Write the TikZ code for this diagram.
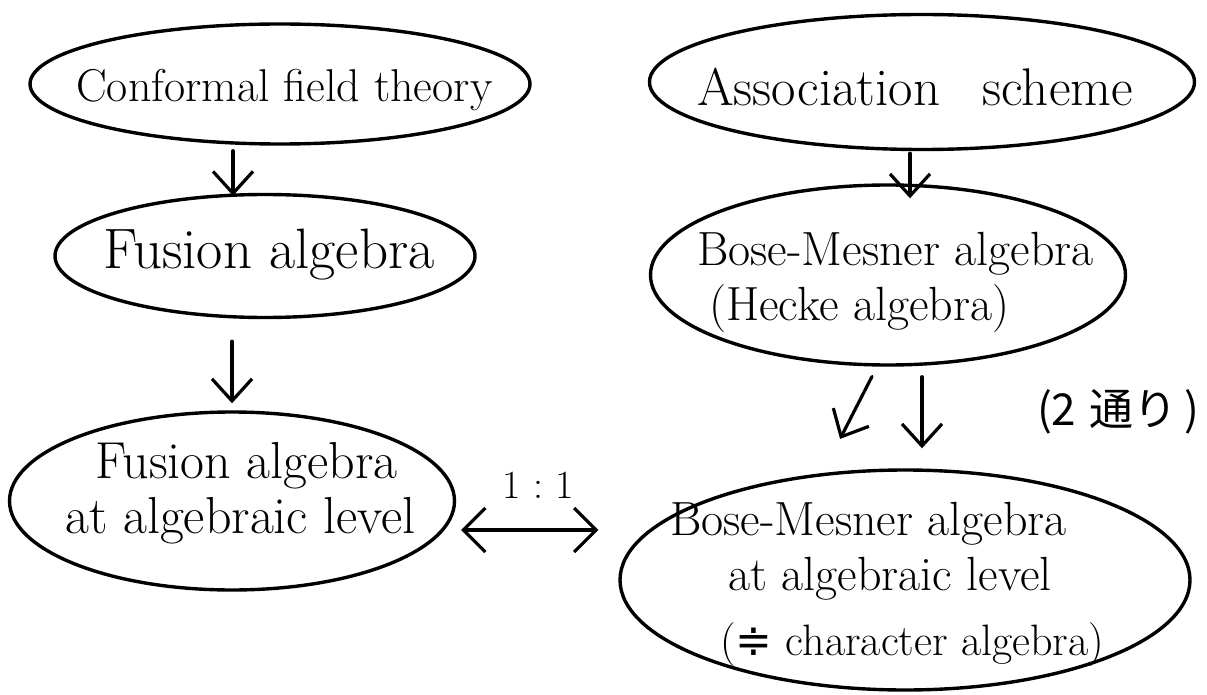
\documentclass[tikz,border=0pt]{standalone}
\usepackage{fontspec}
\newfontfamily\cjk{Noto Sans CJK JP}
\newfontfamily\dejavu{DejaVu Sans}
\usetikzlibrary{shapes.geometric,arrows.meta}
\newcommand{\fsz}[2]{\fontsize{#1}{#2}\selectfont}
\begin{document}
\begin{tikzpicture}[x=1pt,y=-1pt,
  bubble/.style={ellipse, draw, line width=3.4pt, inner sep=0pt},
  lbl/.style={align=left, inner sep=0pt, anchor=north west},
  arr/.style={line width=3.2pt, line cap=round, -{Straight Barb[length=22pt,width=40pt]}},
  dbl/.style={line width=3.2pt, line cap=round, {Straight Barb[length=22pt,width=44pt]}-{Straight Barb[length=22pt,width=44pt]}},
]
\useasboundingbox (0,0) rectangle (1207,695);

% ellipses
\node[bubble, minimum width=500pt, minimum height=120pt] (cft) at (280,84) {};
\node[bubble, minimum width=545pt, minimum height=135pt] (as) at (922,82) {};
\node[bubble, minimum width=420pt, minimum height=123pt] (fa) at (265,256) {};
\node[bubble, minimum width=475pt, minimum height=180pt] (bm) at (888,275) {};
\node[bubble, minimum width=445pt, minimum height=178pt] (fal) at (232,501) {};
\node[bubble, minimum width=570pt, minimum height=220pt] (bmal) at (905,580) {};

% texts
\node[lbl, font=\fsz{46}{55}] (cftt) at (76,69) {Conformal field theory};
\node[lbl, font=\fsz{53}{58}] (ast) at (697,68) {Association\hspace{0.5em} scheme};
\node[lbl, font=\fsz{57}{60}] (fat) at (103,229) {Fusion algebra};
\node[lbl, font=\fsz{48}{55}] (bmt) at (697,232) {Bose-Mesner algebra\\\hspace*{12pt}(Hecke algebra)};
\node[lbl, font=\fsz{52}{55}] (falt) at (65,442) {\hspace*{30pt}Fusion algebra\\at algebraic level};
\node[lbl, font=\fsz{48}{55}] (bmalt) at (670,502) {Bose-Mesner algebra\\\hspace*{58pt}at algebraic level\\[10pt]\hspace*{50pt}{\fsz{44}{55}({\dejavu ≑} character algebra)}};

% arrows
\draw[arr, shorten <=5pt, shorten >=-3pt] ([xshift=-47pt]cft.south) -- ([xshift=-32pt]fa.north);
\draw[arr, shorten <=22pt, shorten >=7pt] ([xshift=-33pt]fa.south) -- (fal.north);
\draw[arr, shorten <=2pt, shorten >=-15pt] ([xshift=-12pt]as.south) -- ([xshift=22pt]bm.north);
\draw[arr, shorten <=11pt, shorten >=33pt] ([xshift=-11pt]bm.south) -- ([xshift=-80pt]bmal.north);
\draw[arr, shorten <=10pt, shorten >=20pt] ([xshift=34pt]bm.south) -- ([xshift=17pt]bmal.north);
\draw[dbl, shorten <=5pt, shorten >=20pt] ([yshift=-29pt]fal.east) -- ([yshift=-29pt]fal.east -| bmal.west);

% annotations
\node[font=\fsz{40}{44}, inner sep=0pt] (ratio) at (538,485) {1\hspace{0.3em}:\hspace{0.3em}1};
\node[font=\fsz{44}{50}\cjk, inner sep=0pt] (ways) at (1118,412) {(2\hspace{0.3em}通り\hspace{0.15em})};
\end{tikzpicture}
\end{document}
